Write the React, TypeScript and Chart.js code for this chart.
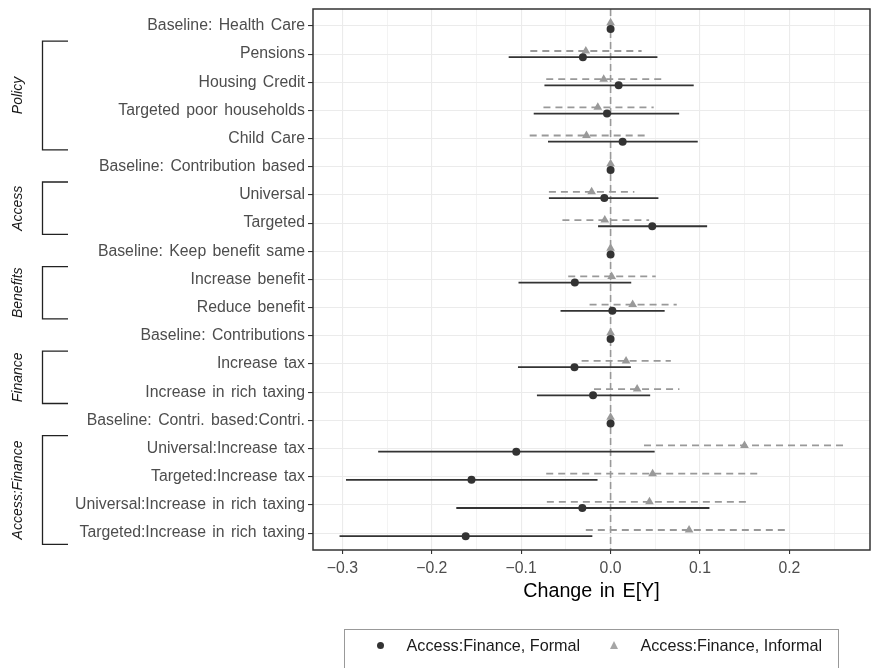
import React, { useEffect, useRef } from "react";
import { Chart, registerables } from "chart.js";

Chart.register(...registerables);

const categories = [
  "Baseline: Health Care",
  "Pensions",
  "Housing Credit",
  "Targeted poor households",
  "Child Care",
  "Baseline: Contribution based",
  "Universal",
  "Targeted",
  "Baseline: Keep benefit same",
  "Increase benefit",
  "Reduce benefit",
  "Baseline: Contributions",
  "Increase tax",
  "Increase in rich taxing",
  "Baseline: Contri. based:Contri.",
  "Universal:Increase tax",
  "Targeted:Increase tax",
  "Universal:Increase in rich taxing",
  "Targeted:Increase in rich taxing",
];

const formalEst = [0, -0.031, 0.009, -0.004, 0.0135, 0, -0.007, 0.0466, 0, -0.04, 0.002, 0, -0.0404, -0.0196, 0, -0.1055, -0.1556, -0.0316, -0.1621];
const formalLo = [0, -0.114, -0.074, -0.086, -0.07, 0, -0.069, -0.014, 0, -0.103, -0.056, 0, -0.1036, -0.0824, 0, -0.26, -0.296, -0.1726, -0.3032];
const formalHi = [0, 0.0524, 0.093, 0.0767, 0.0975, 0, 0.0535, 0.108, 0, 0.0231, 0.0605, 0, 0.0227, 0.0443, 0, 0.0493, -0.0146, 0.1106, -0.0204];

const informalEst = [0, -0.0277, -0.0077, -0.0143, -0.027, 0, -0.0212, -0.0065, 0, 0.0012, 0.0247, 0, 0.0173, 0.0297, 0, 0.1498, 0.047, 0.0435, 0.0878];
const informalLo = [0, -0.0898, -0.072, -0.0751, -0.0905, 0, -0.069, -0.0539, 0, -0.0474, -0.0235, 0, -0.0324, -0.0185, 0, 0.0374, -0.072, -0.0713, -0.0277];
const informalHi = [0, 0.0347, 0.0574, 0.0482, 0.0381, 0, 0.0266, 0.0431, 0, 0.0505, 0.074, 0, 0.0674, 0.077, 0, 0.2622, 0.167, 0.153, 0.2];

const xTicks = [-0.3, -0.25, -0.2, -0.15, -0.1, -0.05, 0, 0.05, 0.1, 0.15, 0.2, 0.25];
const xMajorTicks = [-0.3, -0.2, -0.1, 0, 0.1, 0.2];

const groups = [
  { label: "Policy", from: 1, to: 4 },
  { label: "Access", from: 6, to: 7 },
  { label: "Benefits", from: 9, to: 10 },
  { label: "Finance", from: 12, to: 13 },
  { label: "Access:Finance", from: 15, to: 18 },
];

const seriesNames = ["Access:Finance, Formal", "Access:Finance, Informal"];

const FONT = "'Liberation Sans', Arial, sans-serif";
const FORMAL = "#333333";
const INFORMAL = "#999999";
const DODGE = 0.11;

const isMajor = (v: number) => xMajorTicks.some((m) => Math.abs(m - v) < 1e-9);
const fmt = (v: number) => {
  const s = Math.abs(v).toFixed(1);
  return v < -1e-9 ? "\u2212" + s : s;
};

function barData(lo: number[], hi: number[], off: number) {
  const out: any[] = [];
  categories.forEach((_, i) => {
    out.push({ x: lo[i], y: i + off });
    out.push({ x: hi[i], y: i + off });
    out.push({ x: null, y: null });
  });
  return out;
}

const panelPlugin = {
  id: "panelDecor",
  beforeDraw(chart: any) {
    chart.ctx.wordSpacing = "2px";
  },
  afterDatasetsDraw(chart: any) {
    const { ctx, chartArea } = chart;
    ctx.save();
    ctx.strokeStyle = "#333333";
    ctx.lineWidth = 1.5;
    ctx.strokeRect(chartArea.left, chartArea.top, chartArea.right - chartArea.left, chartArea.bottom - chartArea.top);
    ctx.restore();
  },
  afterDraw(chart: any) {
    const { ctx } = chart;
    const y = chart.scales.y;
    ctx.save();
    ctx.strokeStyle = "#222222";
    ctx.lineWidth = 1.3;
    ctx.fillStyle = "#1a1a1a";
    ctx.font = `italic 14px ${FONT}`;
    ctx.textAlign = "center";
    ctx.textBaseline = "middle";
    groups.forEach((g) => {
      const top = y.getPixelForValue(g.from - 0.46);
      const bot = y.getPixelForValue(g.to + 0.4);
      ctx.beginPath();
      ctx.moveTo(68, top);
      ctx.lineTo(42.5, top);
      ctx.lineTo(42.5, bot);
      ctx.lineTo(68, bot);
      ctx.stroke();
      ctx.save();
      ctx.translate(18.5, (top + bot) / 2);
      ctx.rotate(-Math.PI / 2);
      ctx.fillText(g.label, 0, 0);
      ctx.restore();
    });
    ctx.restore();
    ctx.wordSpacing = "0px";
  },
};

export default function App() {
  const ref = useRef<HTMLCanvasElement | null>(null);

  useEffect(() => {
    if (!ref.current) return;
    const chart = new Chart(ref.current, {
      type: "scatter",
      data: {
        datasets: [
          {
            label: seriesNames[0],
            data: categories.map((_, i) => ({ x: formalEst[i], y: i + DODGE })),
            pointStyle: "circle",
            pointRadius: 4,
            pointBackgroundColor: FORMAL,
            pointBorderWidth: 0,
            order: 0,
          } as any,
          {
            label: seriesNames[1],
            data: categories.map((_, i) => ({ x: informalEst[i], y: i - DODGE })),
            pointStyle: "triangle",
            pointRadius: 5,
            pointBackgroundColor: INFORMAL,
            pointBorderWidth: 0,
            order: 1,
          } as any,
          {
            label: "formal-ci",
            data: barData(formalLo, formalHi, DODGE),
            showLine: true,
            pointRadius: 0,
            borderColor: FORMAL,
            borderWidth: 1.8,
            spanGaps: false,
            order: 2,
          } as any,
          {
            label: "informal-ci",
            data: barData(informalLo, informalHi, -DODGE),
            showLine: true,
            pointRadius: 0,
            borderColor: INFORMAL,
            borderWidth: 1.8,
            borderDash: [7, 5],
            spanGaps: false,
            order: 3,
          } as any,
          {
            label: "zero",
            data: [
              { x: 0, y: -0.6 },
              { x: 0, y: categories.length - 0.4 },
            ],
            showLine: true,
            pointRadius: 0,
            borderColor: INFORMAL,
            borderWidth: 1.6,
            borderDash: [7, 4],
            order: 4,
          } as any,
        ],
      },
      options: {
        animation: false,
        responsive: false,
        devicePixelRatio: 1,
        layout: { padding: { left: 0, top: 9, right: 5, bottom: 58 } },
        plugins: {
          legend: { display: false },
          tooltip: { enabled: false },
        },
        scales: {
          x: {
            type: "linear",
            min: -0.3329,
            max: 0.2902,
            afterBuildTicks: (s: any) => {
              s.ticks = xTicks.map((v) => ({ value: v }));
            },
            afterFit: (s: any) => {
              s.height = 60;
              s.paddingLeft = 0;
              s.paddingRight = 0;
            },
            ticks: {
              autoSkip: false,
              maxRotation: 0,
              padding: 5,
              color: "#4d4d4d",
              font: { family: FONT, size: 15.8 },
              callback: (v: any) => (isMajor(Number(v)) ? fmt(Number(v)) : ""),
            },
            grid: {
              color: "#ebebeb",
              lineWidth: (c: any) => (isMajor(c.tick?.value) ? 1.1 : 0.6),
              tickColor: (c: any) => (isMajor(c.tick?.value) ? "#333333" : "rgba(0,0,0,0)"),
              tickWidth: 1.1,
              tickLength: 4,
            },
            border: { display: false },
            title: {
              display: true,
              text: "Change in E[Y]",
              color: "#000000",
              font: { family: FONT, size: 19.7 },
              padding: { top: 0, bottom: 6.7 },
            },
          },
          y: {
            type: "linear",
            min: -0.6,
            max: categories.length - 0.4,
            reverse: true,
            afterBuildTicks: (s: any) => {
              s.ticks = categories.map((_, i) => ({ value: i }));
            },
            afterFit: (s: any) => {
              s.width = 313;
              s.paddingTop = 0;
              s.paddingBottom = 0;
            },
            ticks: {
              autoSkip: false,
              padding: 3,
              color: "#4d4d4d",
              font: { family: FONT, size: 15.8 },
              callback: (v: any) => categories[Math.round(Number(v))] ?? "",
            },
            grid: {
              color: "#ebebeb",
              lineWidth: 1.1,
              tickColor: "#333333",
              tickWidth: 1.1,
              tickLength: 5,
            },
            border: { display: false },
          },
        },
      },
      plugins: [panelPlugin],
    });
    return () => chart.destroy();
  }, []);

  const legendText: React.CSSProperties = {
    position: "absolute",
    top: 635,
    height: 20,
    lineHeight: "20px",
    fontFamily: FONT,
    fontSize: "16.2px",
    color: "#1a1a1a",
    whiteSpace: "nowrap",
  };

  return (
    <div style={{ position: "fixed", left: 0, top: 0, width: 875, height: 668, background: "#ffffff", overflow: "hidden" }}>
      <canvas ref={ref} width={875} height={668} style={{ position: "absolute", left: 0, top: 0, width: 875, height: 668 }} />
      <div
        style={{
          position: "absolute",
          left: 343.5,
          top: 628.5,
          width: 495,
          height: 60,
          borderTop: "1.5px solid #999999",
          borderLeft: "1.5px solid #999999",
          borderRight: "1.5px solid #999999",
          boxSizing: "border-box",
        }}
      />
      <div style={{ position: "absolute", left: 376.5, top: 641.5, width: 7, height: 7, borderRadius: "50%", background: FORMAL }} />
      <div style={{ ...legendText, left: 406.5 }}>{seriesNames[0]}</div>
      <div
        style={{
          position: "absolute",
          left: 609.5,
          top: 640.5,
          width: 0,
          height: 0,
          borderLeft: "4.5px solid transparent",
          borderRight: "4.5px solid transparent",
          borderBottom: "8px solid #a6a6a6",
        }}
      />
      <div style={{ ...legendText, left: 640.4 }}>{seriesNames[1]}</div>
    </div>
  );
}
